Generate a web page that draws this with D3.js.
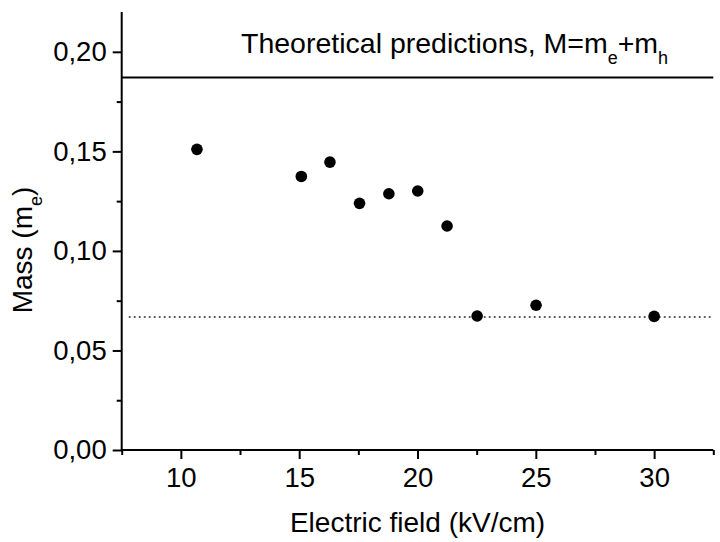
<!DOCTYPE html>
<html><head><meta charset="utf-8">
<script src="https://cdn.jsdelivr.net/npm/d3@7"></script>
<style>
html,body{margin:0;padding:0;background:#fff;}
svg{display:block;font-family:"Liberation Sans",Arial,sans-serif;}
</style></head>
<body>
<svg id="c" width="720" height="542"></svg>
<script>
// Data
const fieldKVcm = [10.68, 15.09, 16.30, 17.55, 18.79, 20.01, 21.25, 22.52, 25.01, 30.0];
const massMe    = [0.151, 0.1374, 0.1446, 0.1239, 0.1287, 0.1301, 0.1125, 0.0673, 0.0727, 0.0671];
const theoryM   = [0.1871];   // solid line, M = me + mh
const refLevel  = [0.0668];   // dotted line
const xMajorTicks = [10, 15, 20, 25, 30];
const xMinorTicks = [7.5, 12.5, 17.5, 22.5, 27.5, 32.5];
const yMajorTicks = [0, 0.05, 0.10, 0.15, 0.20];
const yMinorTicks = [0.025, 0.075, 0.125, 0.175];
const xDomain = [7.5, 32.5];
const yDomain = [0, 0.22];

const svg = d3.select("#c");
const L = 121.7, R = 713.3, T = 12, B = 450;
const x = d3.scaleLinear().domain(xDomain).range([L, R]);
const y = d3.scaleLinear().domain(yDomain).range([B, T]);
const fmt = d => d3.format(".2f")(d).replace(".", ",");

// reference lines
svg.append("line").attr("x1", x(xDomain[0])).attr("x2", x(xDomain[1]))
  .attr("y1", y(theoryM[0])).attr("y2", y(theoryM[0]))
  .attr("stroke", "#000").attr("stroke-width", 2);
svg.append("line").attr("x1", x(7.8)).attr("x2", x(32.4))
  .attr("y1", y(refLevel[0])).attr("y2", y(refLevel[0]))
  .attr("stroke", "#222").attr("stroke-width", 1.3).attr("stroke-dasharray", "1.8,3.2");

// axes
const xAx = svg.append("g").attr("transform", `translate(0,${B})`)
  .call(d3.axisBottom(x).tickValues(xMajorTicks).tickSize(9).tickPadding(8).tickFormat(d3.format("d")));
svg.append("g").attr("transform", `translate(0,${B})`)
  .call(d3.axisBottom(x).tickValues(xMinorTicks).tickSize(5).tickFormat(""))
  .call(g => g.select(".domain").remove());
const yAx = svg.append("g").attr("transform", `translate(${L},0)`)
  .call(d3.axisLeft(y).tickValues(yMajorTicks).tickSize(9).tickPadding(6).tickFormat(fmt));
svg.append("g").attr("transform", `translate(${L},0)`)
  .call(d3.axisLeft(y).tickValues(yMinorTicks).tickSize(5).tickFormat(""))
  .call(g => g.select(".domain").remove());
yAx.select(".domain").attr("d", `M0,${B}V${T}`);
xAx.select(".domain").attr("d", `M${L},0H${R}`);
svg.selectAll(".domain").attr("stroke-width", 2).attr("stroke", "#000");
svg.selectAll(".tick line").attr("stroke-width", 2).attr("stroke", "#000");
svg.selectAll(".tick text").attr("font-size", 27.5).attr("font-family", "Liberation Sans, Arial, sans-serif").attr("fill", "#000");

// points
svg.append("g").selectAll("circle").data(fieldKVcm).join("circle")
  .attr("cx", d => x(d)).attr("cy", (d, i) => y(massMe[i])).attr("r", 5.8).attr("fill", "#000");

// title text
const t = svg.append("text").attr("x", 241).attr("y", 53).attr("font-size", 28.5).attr("fill", "#000");
t.append("tspan").text("Theoretical predictions, M=m");
t.append("tspan").attr("font-size", 18).attr("dy", 11).text("e");
t.append("tspan").attr("dy", -11).text("+m");
t.append("tspan").attr("font-size", 18).attr("dy", 11).text("h");

// axis labels
svg.append("text").attr("x", (L + R) / 2).attr("y", 532).attr("text-anchor", "middle")
  .attr("font-size", 28).attr("fill", "#000").text("Electric field (kV/cm)");
const yl = svg.append("text").attr("transform", "translate(32,250) rotate(-90)")
  .attr("text-anchor", "middle").attr("font-size", 28).attr("fill", "#000");
yl.append("tspan").text("Mass (m");
yl.append("tspan").attr("font-size", 18).attr("dy", 10).text("e");
yl.append("tspan").attr("dy", -10).text(")");
</script>
</body></html>
